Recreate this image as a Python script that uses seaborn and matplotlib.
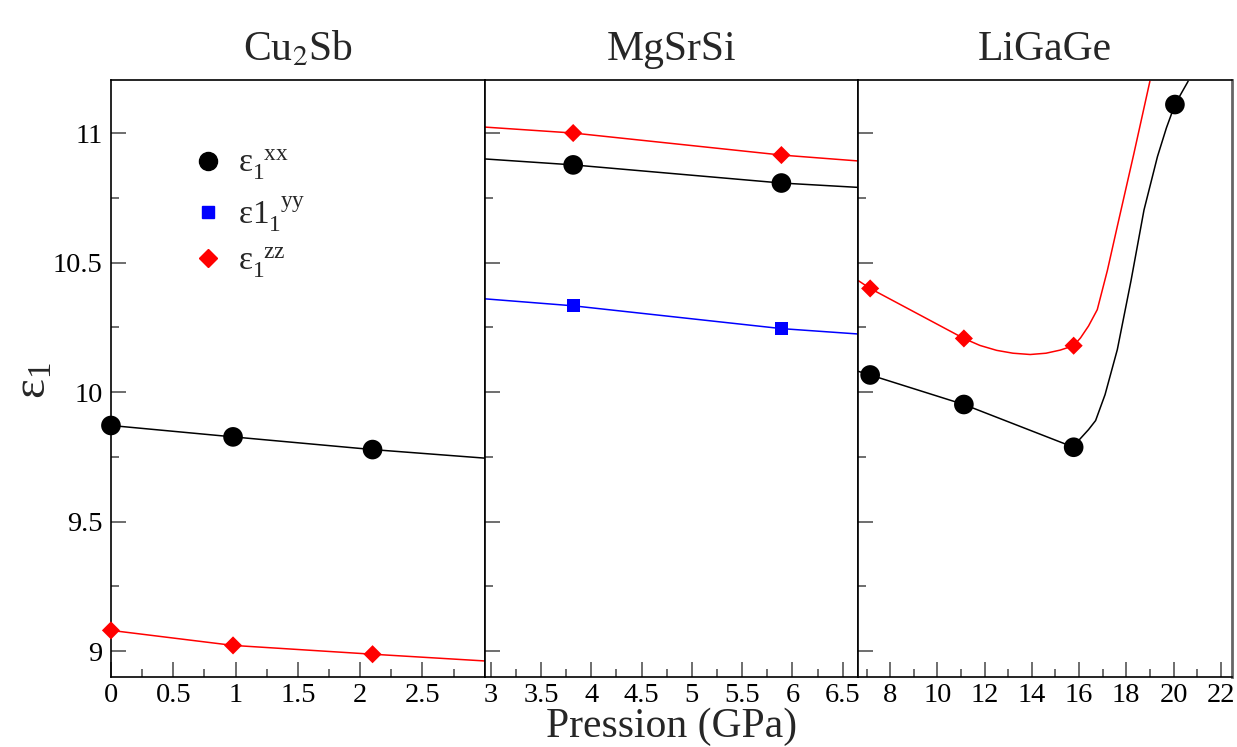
import numpy as np
import pandas as pd
import matplotlib
matplotlib.use("Agg")
import matplotlib.pyplot as plt
from matplotlib.ticker import MultipleLocator, FixedLocator
from matplotlib.lines import Line2D
import seaborn as sns

# ---------------- data ----------------
panels = ["Cu$_2$Sb", "MgSrSi", "LiGaGe"]

# Cu2Sb
cu_x = [0.0, 0.98, 2.1]
cu_xx = [9.871, 9.827, 9.778]
cu_zz = [9.080, 9.022, 8.988]
cu_line_x = [0.0, 0.98, 2.1, 3.0]
cu_line_xx = [9.871, 9.827, 9.778, 9.745]
cu_line_zz = [9.080, 9.022, 8.988, 8.962]

# MgSrSi
mg_x = [3.82, 5.89]
mg_xx = [10.877, 10.807]
mg_yy = [10.333, 10.245]
mg_zz = [11.000, 10.915]
mg_line_x = [2.94, 3.82, 5.89, 6.66]
mg_line_xx = [10.900, 10.877, 10.807, 10.790]
mg_line_yy = [10.360, 10.333, 10.245, 10.224]
mg_line_zz = [11.023, 11.000, 10.915, 10.892]

# LiGaGe
li_x_xx = [7.15, 11.12, 15.77, 20.06]
li_xx = [10.066, 9.952, 9.787, 11.110]
li_x_zz = [7.15, 11.12, 15.77]
li_zz = [10.400, 10.207, 10.179]
li_line_x_xx = [6.65, 7.15, 11.12, 15.77, 16.0, 16.4, 16.7, 17.1, 17.62, 18.2, 18.75, 19.32, 19.7, 20.06, 20.62]
li_line_xx = [10.080, 10.066, 9.952, 9.787, 9.815, 9.855, 9.890, 9.990, 10.164, 10.430, 10.703, 10.909, 11.020, 11.110, 11.200]
li_line_x_zz = [6.65, 7.15, 11.12, 11.8, 12.51, 13.2, 13.93, 14.6, 15.2, 15.77, 16.06, 16.4, 16.77, 17.2, 17.62, 18.32, 19.0]
li_line_zz = [10.430, 10.400, 10.207, 10.180, 10.161, 10.150, 10.145, 10.150, 10.162, 10.179, 10.209, 10.255, 10.318, 10.470, 10.640, 10.920, 11.200]

labels = {"xx": r"$\mathregular{\varepsilon_1^{\ \ xx}}$",
          "yy": r"$\mathregular{\varepsilon 1_1^{\ \ yy}}$",
          "zz": r"$\mathregular{\varepsilon_1^{\ \ zz}}$"}
colors = {"xx": "black", "yy": "#0000ff", "zz": "#ff0000"}
markers = {"xx": "o", "yy": "s", "zz": "D"}
msizes = {"xx": 200, "yy": 90, "zz": 85}

# ---------------- styling ----------------
sns.set_theme(style="white")
plt.rcParams["font.family"] = ["Liberation Serif", "DejaVu Serif"]
plt.rcParams["mathtext.fontset"] = "stix"

fig, axes = plt.subplots(1, 3, figsize=(12.37, 7.47), dpi=100, sharey=True)
fig.subplots_adjust(left=0.0897, right=0.996, bottom=0.0937, top=0.893, wspace=0)

def draw(ax, comp, px, py, lx, ly):
    ldf = pd.DataFrame({"x": lx, "y": ly})
    sns.lineplot(data=ldf, x="x", y="y", ax=ax, color=colors[comp], lw=1.1,
                 sort=False, estimator=None, legend=False)
    pdf = pd.DataFrame({"x": px, "y": py})
    sns.scatterplot(data=pdf, x="x", y="y", ax=ax, color=colors[comp],
                    marker=markers[comp], s=msizes[comp], edgecolor="none",
                    legend=False, zorder=5, clip_on=False)

ax1, ax2, ax3 = axes
draw(ax1, "xx", cu_x, cu_xx, cu_line_x, cu_line_xx)
draw(ax1, "zz", cu_x, cu_zz, cu_line_x, cu_line_zz)
draw(ax2, "zz", mg_x, mg_zz, mg_line_x, mg_line_zz)
draw(ax2, "xx", mg_x, mg_xx, mg_line_x, mg_line_xx)
draw(ax2, "yy", mg_x, mg_yy, mg_line_x, mg_line_yy)
draw(ax3, "zz", li_x_zz, li_zz, li_line_x_zz, li_line_zz)
draw(ax3, "xx", li_x_xx, li_xx, li_line_x_xx, li_line_xx)

ax1.set_xlim(0, 3.0)
ax2.set_xlim(2.94, 6.655)
ax3.set_xlim(6.65, 22.48)
ax1.set_ylim(8.9, 11.205)

ax1.xaxis.set_major_locator(FixedLocator([0, 0.5, 1, 1.5, 2, 2.5]))
ax1.xaxis.set_minor_locator(MultipleLocator(0.25))
ax2.xaxis.set_major_locator(FixedLocator([3, 3.5, 4, 4.5, 5, 5.5, 6, 6.5]))
ax2.xaxis.set_minor_locator(MultipleLocator(0.25))
ax3.xaxis.set_major_locator(FixedLocator([8, 10, 12, 14, 16, 18, 20, 22]))
ax3.xaxis.set_minor_locator(MultipleLocator(1))
ax1.yaxis.set_minor_locator(MultipleLocator(0.25))
ax1.set_yticks([9, 9.5, 10, 10.5, 11])
ax1.set_yticklabels(["9", "9.5", "10", "10.5", "11"])
ax1.set_xticklabels(["0", "0.5", "1", "1.5", "2", "2.5"])
ax2.set_xticklabels(["3", "3.5", "4", "4.5", "5", "5.5", "6", "6.5"])

for ax, title in zip(axes, panels):
    ax.set_title(title, fontsize=30, pad=14)
    ax.set_xlabel("")
    ax.set_ylabel("")
    ax.tick_params(which="both", direction="in", colors="#555555",
                   labelcolor="black", labelsize=20.5, width=1.2,
                   bottom=True, left=True, top=False, right=False)
    ax.tick_params(which="major", length=11)
    ax.tick_params(which="minor", length=6)
    ax.tick_params(axis="x", pad=4)
    ax.tick_params(axis="y", pad=6)
    for s in ax.spines.values():
        s.set_color("black")
        s.set_linewidth(1.2)
axes[2].spines["right"].set_color("#666666")
axes[2].spines["right"].set_linewidth(2)
ax2.tick_params(axis="y", labelleft=False)
ax3.tick_params(axis="y", labelleft=False)

fig.text(0.028, 0.49, r"$\mathregular{\varepsilon_1}$", fontsize=34, rotation=90,
         ha="center", va="center")
fig.text(0.543, 0.014, "Pression (GPa)", fontsize=30, ha="center", va="baseline")

# legend in first panel
handles = [Line2D([], [], ls="none", marker=markers[c], color=colors[c],
                  markersize={"xx": 13, "yy": 9, "zz": 9}[c]) for c in ["xx", "yy", "zz"]]
ax1.legend(handles, [labels[c] for c in ["xx", "yy", "zz"]],
           loc="upper left", bbox_to_anchor=(0.125, 0.937), frameon=False,
           fontsize=24, handletextpad=0.3, labelspacing=0.35, handlelength=1.2)

fig.savefig("out.png", dpi=100)
